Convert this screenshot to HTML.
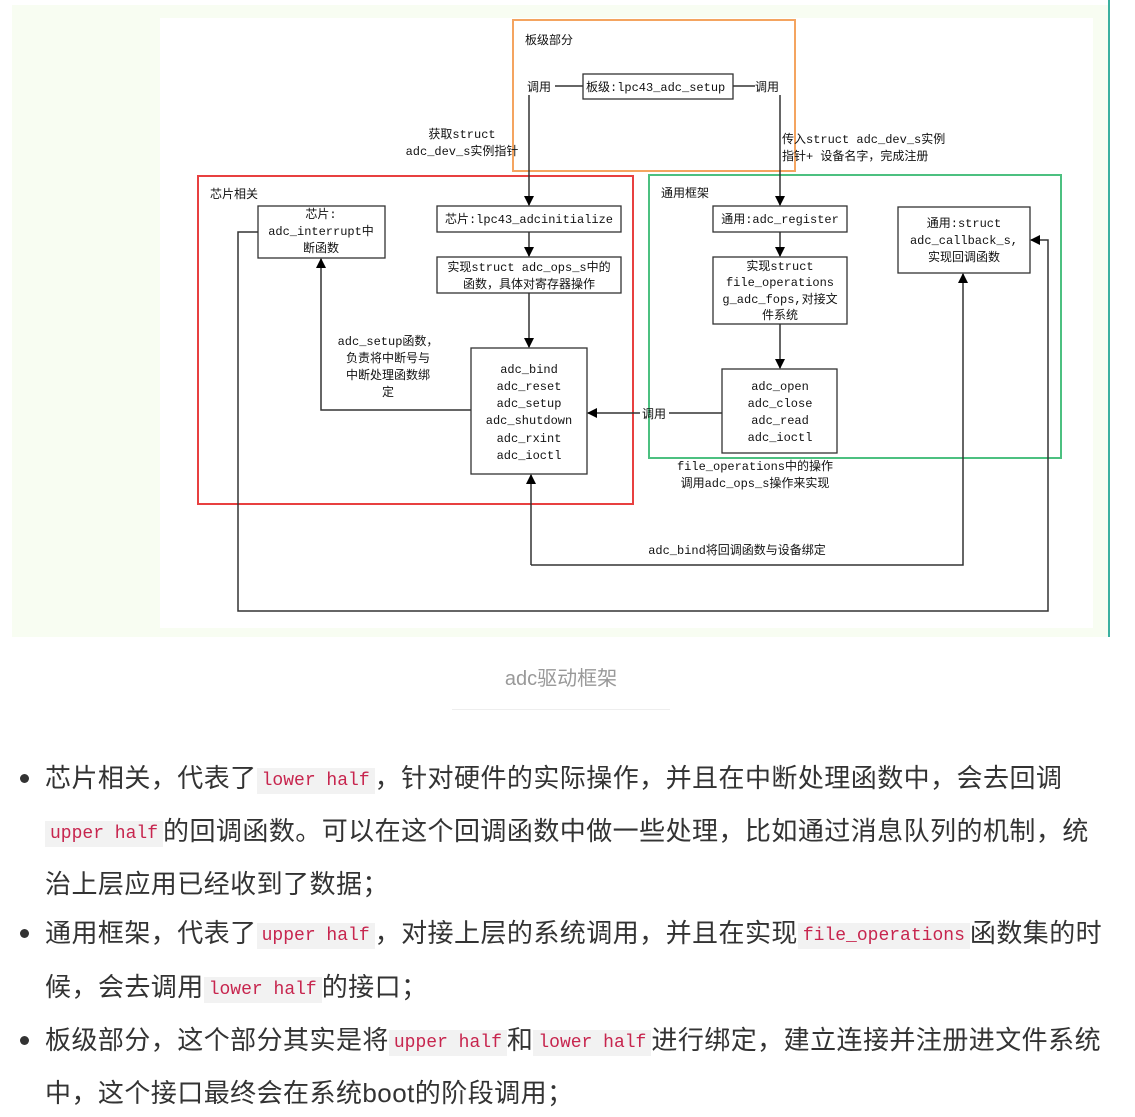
<!DOCTYPE html>
<html><head><meta charset="utf-8"><style>
body{margin:0;width:1135px;height:1117px;background:#fff;position:relative;overflow:hidden;font-family:"Liberation Sans","Noto Sans CJK SC",sans-serif;}
.ln{position:absolute;left:45px;font-size:26px;color:#333;white-space:nowrap;line-height:30px;letter-spacing:0.45px;}
code{font-family:"Liberation Mono","DejaVu Sans Mono",monospace;font-size:18px;color:#c7254e;background:#f2f2f2;padding:3px 5px;vertical-align:2px;letter-spacing:0;}
.dot{position:absolute;left:20px;width:9px;height:9px;border-radius:50%;background:#333;}
svg text{font-family:"Liberation Mono","Noto Sans CJK SC",monospace;font-size:12px;fill:#111;}
</style></head><body>
<div style="position:absolute;left:12px;top:5px;width:1098px;height:632px;background:#f8fdf2"></div>
<div style="position:absolute;left:1108px;top:0;width:2px;height:637px;background:#3cb0a0"></div>
<div style="position:absolute;left:160px;top:18px;width:933px;height:610px;background:#fff"></div>
<svg style="position:absolute;left:0;top:0" width="1135" height="640">
<defs><marker id="a" markerWidth="10" markerHeight="10" refX="9" refY="5" orient="auto" markerUnits="userSpaceOnUse"><path d="M0,0L10,5L0,10z" fill="#000"/></marker></defs>
<g fill="none" stroke-width="2">
<rect x="513" y="20" width="282" height="151" stroke="#f4a460"/>
<rect x="198" y="176" width="435" height="328" stroke="#e84040"/>
<rect x="649" y="175" width="412" height="283" stroke="#4cc080"/>
</g>
<g fill="#fff" stroke="#333" stroke-width="1.3">
<rect x="583" y="74" width="150" height="25"/>
<rect x="258" y="206" width="127" height="52"/>
<rect x="437" y="206" width="184" height="26"/>
<rect x="437" y="257" width="184" height="36"/>
<rect x="471" y="348" width="116" height="126"/>
<rect x="713" y="206" width="134" height="26"/>
<rect x="713" y="257" width="134" height="67"/>
<rect x="722" y="369" width="115" height="84"/>
<rect x="898" y="207" width="132" height="66"/>
</g>
<g fill="none" stroke="#333" stroke-width="1.5">
<line x1="555" y1="86" x2="583" y2="86"/><line x1="733" y1="86" x2="755" y2="86"/>
<line x1="529" y1="95" x2="529" y2="205" marker-end="url(#a)"/>
<line x1="780" y1="95" x2="780" y2="205" marker-end="url(#a)"/>
<line x1="529" y1="232" x2="529" y2="256" marker-end="url(#a)"/>
<line x1="529" y1="293" x2="529" y2="347" marker-end="url(#a)"/>
<line x1="780" y1="232" x2="780" y2="256" marker-end="url(#a)"/>
<line x1="780" y1="324" x2="780" y2="368" marker-end="url(#a)"/>
<line x1="722" y1="413" x2="669" y2="413"/><line x1="640" y1="413" x2="588" y2="413" marker-end="url(#a)"/>
<polyline points="471,410 321,410 321,259" marker-end="url(#a)"/>
<polyline points="531,565 531,475" marker-end="url(#a)"/>
<polyline points="531,565 963,565 963,274" marker-end="url(#a)"/>
<polyline points="258,232 238,232 238,611 1048,611 1048,240 1031,240" marker-end="url(#a)"/>
</g>
<text x="525" y="44" fill="#666">板级部分</text>
<text x="527" y="91">调用</text><text x="755" y="91">调用</text>
<text x="586" y="91">板级:lpc43_adc_setup</text>
<text x="462" y="138" text-anchor="middle">获取struct</text>
<text x="462" y="155" text-anchor="middle">adc_dev_s实例指针</text>
<text x="782" y="143">传入struct adc_dev_s实例</text>
<text x="782" y="160">指针+ 设备名字，完成注册</text>
<text x="210" y="198" fill="#666">芯片相关</text>
<text x="661" y="197" fill="#666">通用框架</text>
<text x="321" y="218" text-anchor="middle">芯片:</text>
<text x="321" y="235" text-anchor="middle">adc_interrupt中</text>
<text x="321" y="252" text-anchor="middle">断函数</text>
<text x="529" y="223" text-anchor="middle">芯片:lpc43_adcinitialize</text>
<text x="529" y="271" text-anchor="middle">实现struct adc_ops_s中的</text>
<text x="529" y="288" text-anchor="middle">函数，具体对寄存器操作</text>
<text x="529" y="373" text-anchor="middle">adc_bind</text>
<text x="529" y="390" text-anchor="middle">adc_reset</text>
<text x="529" y="407" text-anchor="middle">adc_setup</text>
<text x="529" y="424" text-anchor="middle">adc_shutdown</text>
<text x="529" y="442" text-anchor="middle">adc_rxint</text>
<text x="529" y="459" text-anchor="middle">adc_ioctl</text>
<text x="388" y="345" text-anchor="middle">adc_setup函数，</text>
<text x="388" y="362" text-anchor="middle">负责将中断号与</text>
<text x="388" y="379" text-anchor="middle">中断处理函数绑</text>
<text x="388" y="396" text-anchor="middle">定</text>
<text x="654" y="418" text-anchor="middle">调用</text>
<text x="780" y="223" text-anchor="middle">通用:adc_register</text>
<text x="780" y="270" text-anchor="middle">实现struct</text>
<text x="780" y="286" text-anchor="middle">file_operations</text>
<text x="780" y="303" text-anchor="middle">g_adc_fops,对接文</text>
<text x="780" y="319" text-anchor="middle">件系统</text>
<text x="780" y="390" text-anchor="middle">adc_open</text>
<text x="780" y="407" text-anchor="middle">adc_close</text>
<text x="780" y="424" text-anchor="middle">adc_read</text>
<text x="780" y="441" text-anchor="middle">adc_ioctl</text>
<text x="964" y="227" text-anchor="middle">通用:struct</text>
<text x="964" y="244" text-anchor="middle">adc_callback_s,</text>
<text x="964" y="261" text-anchor="middle">实现回调函数</text>
<text x="755" y="470" text-anchor="middle">file_operations中的操作</text>
<text x="755" y="487" text-anchor="middle">调用adc_ops_s操作来实现</text>
<text x="737" y="554" text-anchor="middle">adc_bind将回调函数与设备绑定</text>
</svg>
<div style="position:absolute;left:0;width:1122px;top:662px;text-align:center;font-size:20px;color:#999">adc驱动框架</div>
<div style="position:absolute;left:452px;top:709px;width:218px;height:1px;background:#eee"></div>
<div class="dot" style="top:774px"></div>
<div class="ln" style="top:763px">芯片相关，代表了<code>lower half</code>，针对硬件的实际操作，并且在中断处理函数中，会去回调</div>
<div class="ln" style="top:816px"><code>upper half</code>的回调函数。可以在这个回调函数中做一些处理，比如通过消息队列的机制，统</div>
<div class="ln" style="top:869px">治上层应用已经收到了数据；</div>
<div class="dot" style="top:929px"></div>
<div class="ln" style="top:918px">通用框架，代表了<code>upper half</code>，对接上层的系统调用，并且在实现<code>file_operations</code>函数集的时</div>
<div class="ln" style="top:972px">候，会去调用<code>lower half</code>的接口；</div>
<div class="dot" style="top:1036px"></div>
<div class="ln" style="top:1025px">板级部分，这个部分其实是将<code>upper half</code>和<code>lower half</code>进行绑定，建立连接并注册进文件系统</div>
<div class="ln" style="top:1078px">中，这个接口最终会在系统boot的阶段调用；</div>
</body></html>
